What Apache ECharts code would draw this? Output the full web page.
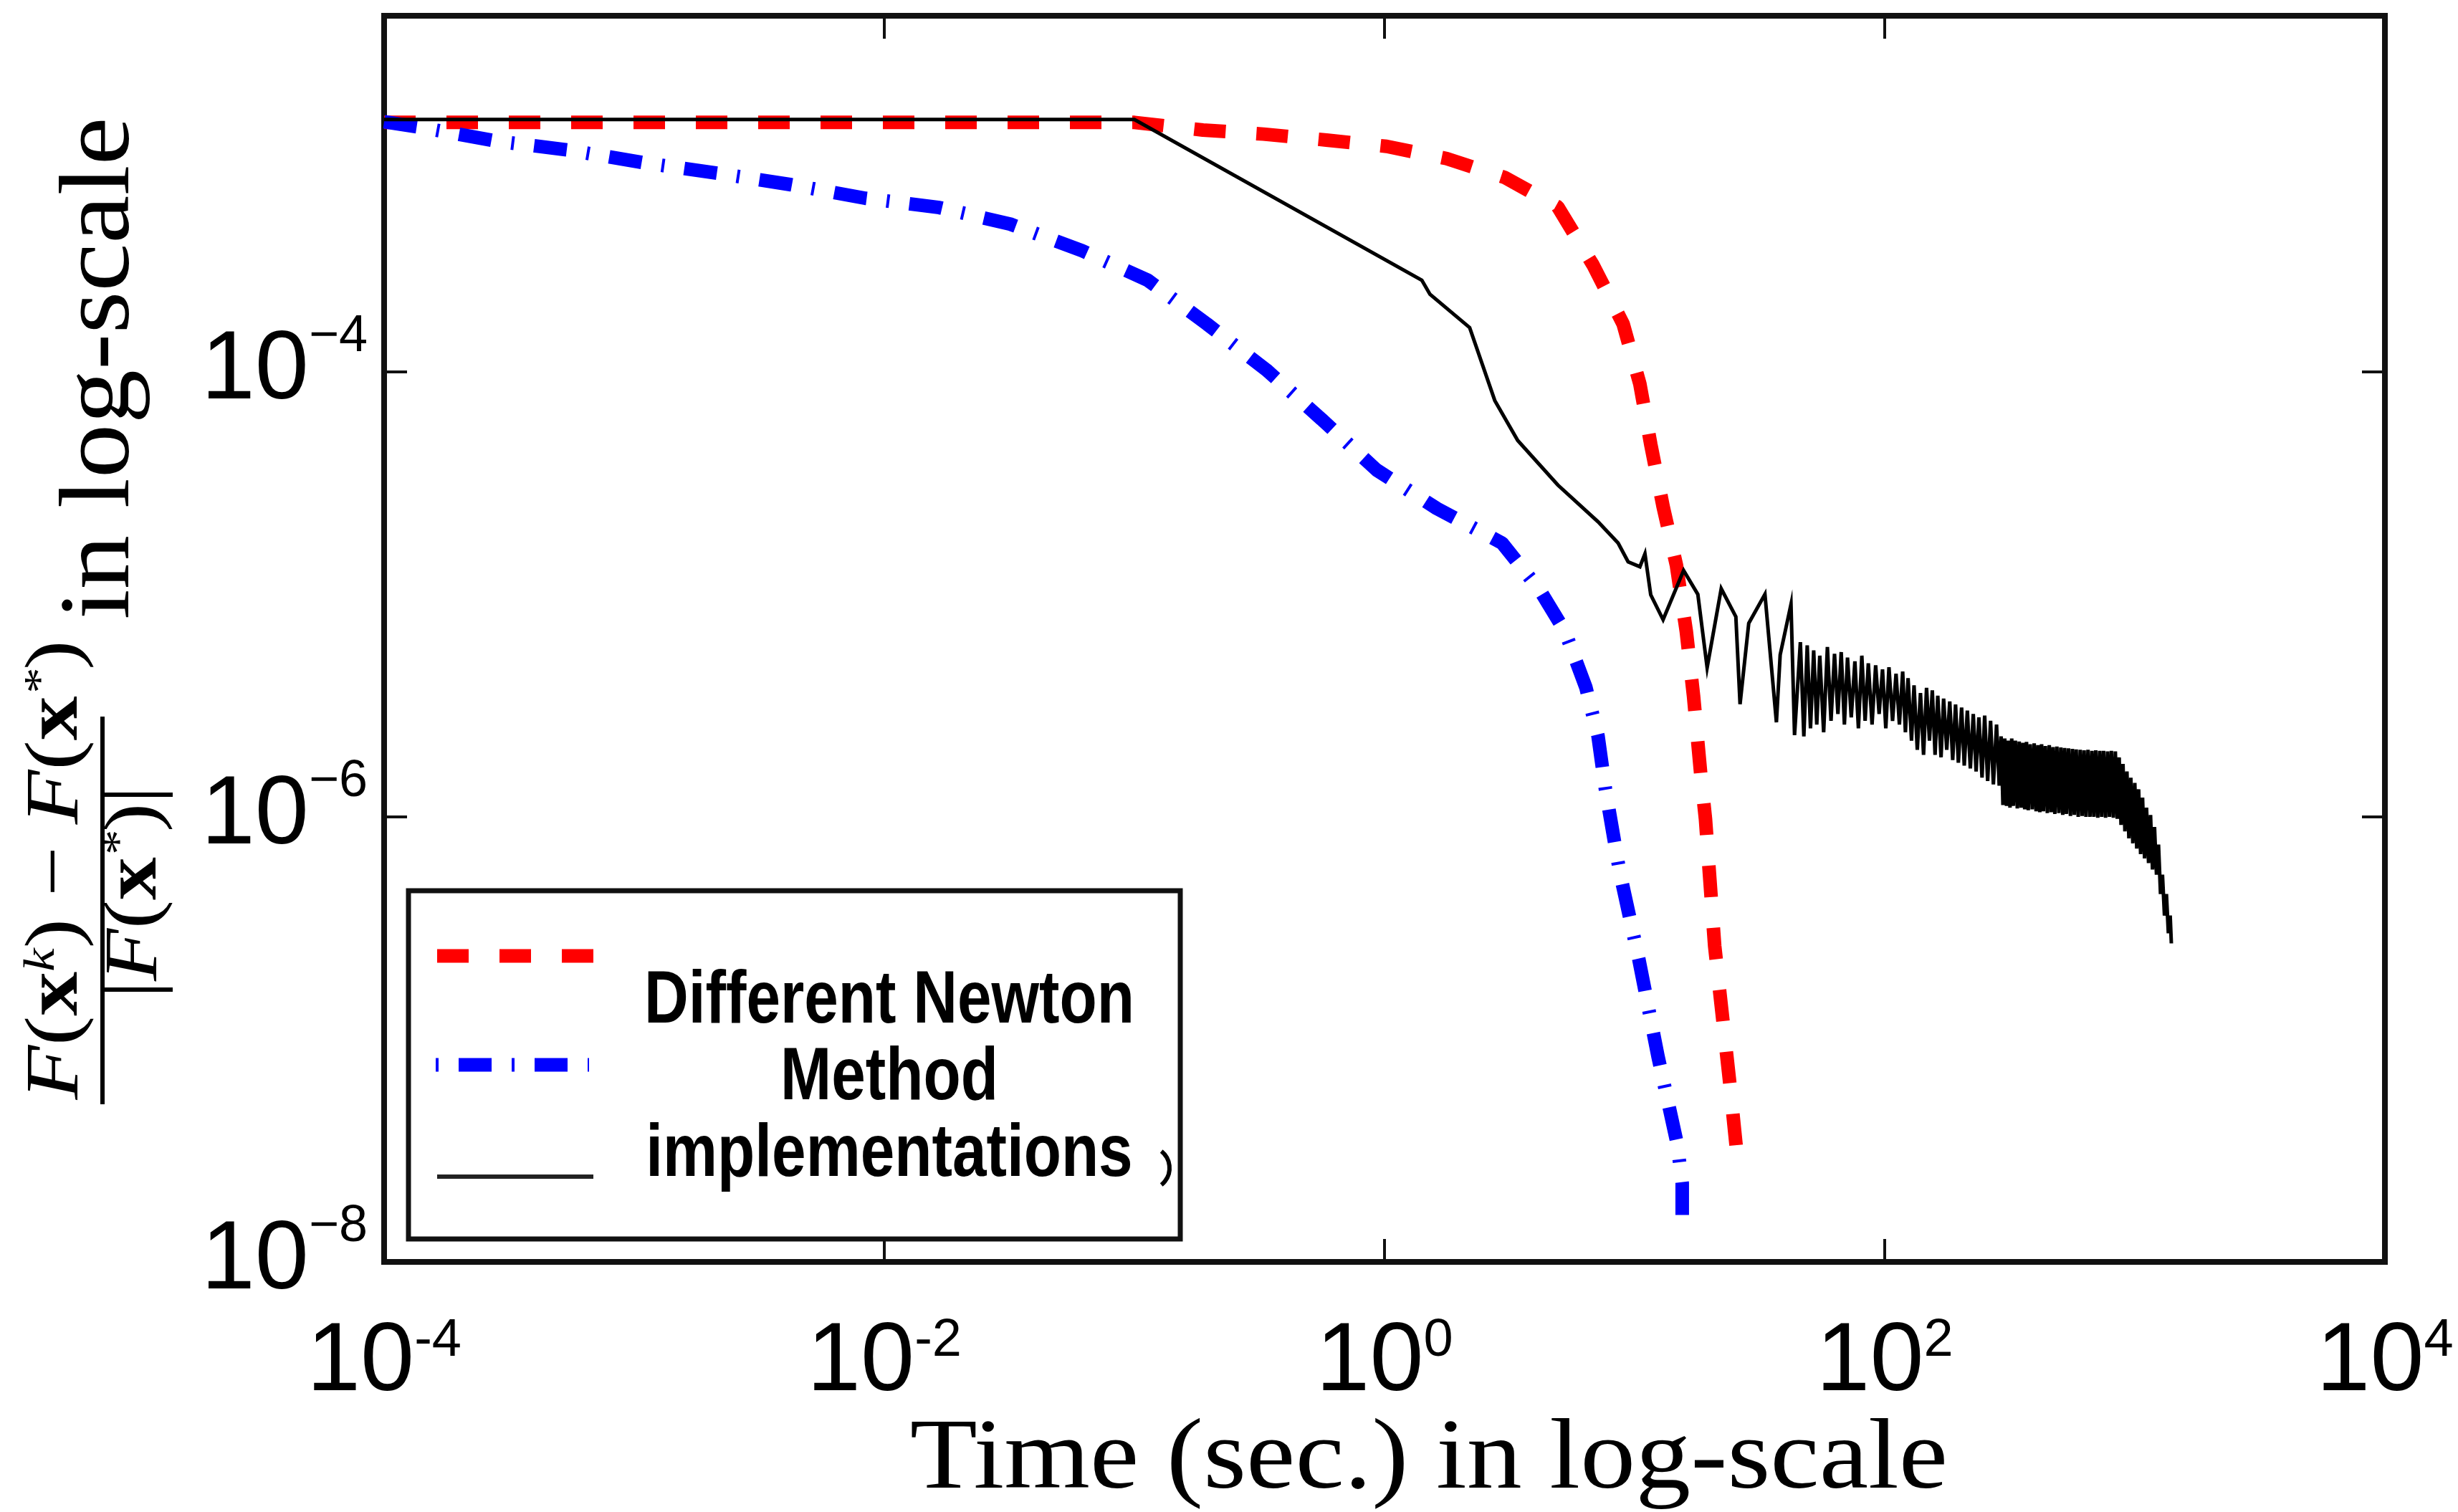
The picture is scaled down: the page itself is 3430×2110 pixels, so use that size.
<!DOCTYPE html>
<html>
<head>
<meta charset="utf-8">
<script src="https://cdn.jsdelivr.net/npm/echarts@6/dist/echarts.min.js"></script>
<style>
html,body{margin:0;padding:0;background:#fff;}
#chart{width:3430px;height:2110px;}
</style>
</head>
<body>
<div id="chart"></div>
<script>
// ---------- tick labels (exponents of 10) ----------
const xTickExponents = [-4, -2, 0, 2, 4];
const yTickExponents = [-8, -6, -4];

// ---------- texts ----------
const xAxisTitle = 'Time (sec.) in log-scale';
const yAxisTitleTail = 'in log-scale';
const legendLines = ['Different Newton', 'Method', 'implementations'];
const seriesNames = ['Newton (dashed)', 'Newton (dash-dot)', 'Newton (solid)'];

// ---------- series values: [time (s), relative error] ----------
const redPoints = [
  [1e-4, 1.32e-3], [0.1, 1.32e-3], [0.188, 1.22e-3], [0.328, 1.17e-3], [0.586, 1.10e-3],
  [1.02, 1.03e-3], [1.77, 9.08e-4], [3.03, 7.46e-4], [4.93, 5.51e-4], [6.82, 3.02e-4],
  [9.0, 1.64e-4], [10.5, 8.8e-5], [11.6, 4.73e-5], [13.0, 2.48e-5], [14.7, 1.35e-5],
  [16.1, 6.8e-6], [17.2, 3.5e-6], [18.4, 1.54e-6], [19.2, 9.8e-7], [20.9, 2.63e-7],
  [23.9, 6.7e-8], [25.9, 2.76e-8]
];

const bluePoints = [
  [1e-4, 1.33e-3], [1.37e-4, 1.26e-3], [2.78e-4, 1.09e-3], [5.52e-4, 9.9e-4], [1.09e-3, 8.7e-4],
  [2.15e-3, 7.8e-4], [4.24e-3, 6.93e-4], [8.42e-3, 6.02e-4], [0.0166, 5.47e-4], [0.0319, 4.61e-4],
  [0.0618, 3.50e-4], [0.113, 2.58e-4], [0.195, 1.64e-4], [0.337, 1.02e-4], [0.56, 6.12e-5],
  [0.93, 3.62e-5], [1.62, 2.43e-5], [2.95, 1.70e-5], [4.19, 1.04e-5], [5.27, 6.8e-6],
  [6.38, 3.83e-6], [7.14, 2.31e-6], [7.63, 1.35e-6], [8.71, 5.69e-7], [10.4, 2.29e-7],
  [12.4, 8.4e-8], [14.8, 3.40e-8], [15.5, 2.26e-8], [15.5, 1.34e-8]
];

const blackPoints = [
  [1e-4, 1.36e-3], [0.1, 1.36e-3], [1.41, 2.58e-4], [1.52, 2.23e-4], [2.19, 1.58e-4],
  [2.76, 7.43e-5], [3.41, 4.91e-5], [4.93, 3.10e-5], [7.14, 2.12e-5], [8.59, 1.70e-5],
  [9.42, 1.40e-5], [10.5, 1.33e-5], [11.0, 1.52e-5], [11.6, 9.95e-6], [13.0, 7.69e-6],
  [15.7, 1.28e-5], [17.9, 1.00e-5], [19.5, 4.68e-6], [22.2, 1.06e-5], [25.4, 7.93e-6],
  [26.4, 3.21e-6], [28.6, 7.41e-6], [33.2, 1.00e-5], [36.9, 2.66e-6], [38.2, 5.35e-6],
  [42.2, 9.03e-6], [43.6, 2.33e-6],
  [46, 6.1e-6], [47.5, 2.3e-6], [49, 5.9e-6], [50.5, 2.5e-6], [52, 5.6e-6], [53.5, 2.6e-6],
  [55, 5.3e-6], [57, 2.4e-6], [59, 5.8e-6], [61, 2.7e-6], [63, 5.4e-6], [65, 2.9e-6],
  [67, 5.5e-6], [69, 2.6e-6], [71, 5.2e-6], [73.5, 2.8e-6], [76, 5.0e-6], [78.5, 2.5e-6],
  [81, 5.3e-6], [83.5, 2.7e-6], [86, 4.9e-6], [89, 2.6e-6], [92, 4.8e-6], [95, 2.9e-6],
  [98, 4.6e-6], [101, 2.5e-6], [104, 4.7e-6], [107.5, 2.7e-6], [111, 4.4e-6], [114.5, 2.6e-6],
  [118, 4.5e-6], [121, 2.4e-6], [124, 4.2e-6], [128, 2.2e-6], [131, 3.9e-6], [135, 2.0e-6],
  [139, 3.6e-6], [143, 1.9e-6], [147, 3.8e-6], [151, 2.2e-6], [155, 3.7e-6], [159, 1.9e-6],
  [163, 3.5e-6], [168, 1.85e-6], [172, 3.4e-6], [177, 2.0e-6], [182, 3.3e-6], [187, 1.8e-6],
  [192, 3.2e-6], [197, 1.75e-6], [203, 3.1e-6], [208, 1.7e-6], [214, 3.0e-6], [220, 1.65e-6],
  [226, 2.9e-6], [232, 1.6e-6], [238, 2.8e-6], [245, 1.5e-6], [251, 2.85e-6], [258, 1.45e-6],
  [265, 2.7e-6], [272, 1.4e-6], [280, 2.6e-6], [287, 1.38e-6],
  [292, 2.3e-6], [297, 1.13e-6], [302, 2.25e-6], [307, 1.12e-6], [312, 2.2e-6], [317, 1.1e-6],
  [322, 2.25e-6], [327, 1.12e-6], [333, 2.2e-6], [339, 1.09e-6], [345, 2.18e-6], [351, 1.1e-6],
  [357, 2.15e-6], [363, 1.08e-6], [369, 2.17e-6], [375, 1.07e-6], [382, 2.12e-6], [389, 1.08e-6],
  [396, 2.14e-6], [403, 1.06e-6], [410, 2.1e-6], [417, 1.05e-6], [424, 2.12e-6], [431, 1.06e-6],
  [439, 2.08e-6], [447, 1.04e-6], [455, 2.1e-6], [463, 1.05e-6], [471, 2.06e-6], [479, 1.03e-6],
  [488, 2.07e-6], [497, 1.04e-6], [506, 2.05e-6], [515, 1.02e-6], [524, 2.04e-6], [533, 1.03e-6],
  [543, 2.03e-6], [553, 1.01e-6], [563, 2.02e-6], [573, 1.02e-6], [583, 2.01e-6], [594, 1.0e-6],
  [605, 2.0e-6], [616, 1.01e-6], [627, 1.99e-6], [638, 1.0e-6], [650, 2.0e-6], [662, 1.0e-6],
  [674, 1.98e-6], [686, 1.0e-6], [698, 1.99e-6], [711, 9.9e-7], [724, 1.98e-6], [737, 1.0e-6],
  [750, 1.98e-6], [764, 9.9e-7], [778, 1.97e-6], [792, 1.0e-6], [806, 1.98e-6], [821, 9.9e-7],
  [836, 1.97e-6], [851, 9.8e-7],
  [866, 1.85e-6], [881, 9.2e-7], [897, 1.73e-6], [913, 8.6e-7], [930, 1.6e-6], [947, 8.0e-7],
  [964, 1.5e-6], [982, 7.6e-7], [1000, 1.42e-6], [1018, 7.2e-7], [1036, 1.33e-6], [1055, 6.8e-7],
  [1074, 1.22e-6], [1094, 6.5e-7], [1114, 1.1e-6], [1135, 6.2e-7], [1156, 1.02e-6], [1177, 5.8e-7],
  [1199, 9.0e-7], [1221, 5.5e-7], [1244, 7.5e-7], [1267, 4.5e-7], [1290, 5.5e-7], [1314, 3.6e-7],
  [1338, 4.5e-7], [1362, 3.0e-7], [1385, 3.6e-7], [1400, 2.7e-7]
];

// ---------- helpers ----------
const SANS = '"Liberation Sans", Arial, Helvetica, sans-serif';
const SERIF = '"Liberation Serif", "Times New Roman", serif';
const AX = '#111';

function expOf(v, list) {
  const e = Math.log10(v);
  const r = Math.round(e);
  if (Math.abs(e - r) > 1e-6 || list.indexOf(r) < 0) return null;
  return r;
}
function xLabel(v) {
  const r = expOf(v, xTickExponents);
  if (r === null) return '';
  return '{b|10}{s|' + (r < 0 ? '-' + (-r) : String(r)) + '}';
}
function yLabel(v) {
  const r = expOf(v, yTickExponents);
  if (r === null) return '';
  return '{b|10}{m|\u2212}{s|' + (-r) + '}';
}

const axisLineStyle = { show: true, onZero: false, lineStyle: { color: AX, width: 8, cap: 'square' } };
const axisTickStyle = { show: true, inside: true, length: 32, lineStyle: { color: AX, width: 4 } };

const xBase = { type: 'log', logBase: 100, min: 1e-4, max: 1e4, gridIndex: 0,
  axisLine: axisLineStyle, axisTick: axisTickStyle, splitLine: { show: false },
  minorTick: { show: false }, minorSplitLine: { show: false } };
const yBase = { type: 'log', logBase: 100, min: 1e-8, max: 3.98e-3, gridIndex: 0,
  axisLine: axisLineStyle, axisTick: axisTickStyle, splitLine: { show: false },
  minorTick: { show: false }, minorSplitLine: { show: false } };

const fracRich = {
  i: { fontFamily: SERIF, fontStyle: 'italic', fontSize: 105, lineHeight: 105, fill: '#000' },
  p: { fontFamily: SERIF, fontSize: 105, lineHeight: 105, fill: '#000' },
  b: { fontFamily: SERIF, fontWeight: 'bold', fontSize: 105, lineHeight: 105, fill: '#000' },
  k: { fontFamily: SERIF, fontStyle: 'italic', fontSize: 62, lineHeight: 24, verticalAlign: 'top', fill: '#000' }
};

const chart = echarts.init(document.getElementById('chart'), null, { renderer: 'canvas' });

const option = {
  backgroundColor: '#ffffff',
  animation: false,
  grid: { left: 536, right: 102, top: 22, bottom: 349, containLabel: false, outerBoundsMode: 'none' },
  xAxis: [
    Object.assign({}, xBase, {
      position: 'bottom',
      axisLabel: {
        show: true, interval: 0, margin: 74, color: '#000', formatter: xLabel,
        showMinLabel: true, showMaxLabel: true,
        rich: {
          b: { fontFamily: SANS, fontSize: 135, lineHeight: 135, color: '#000' },
          s: { fontFamily: SANS, fontSize: 74, lineHeight: 19, verticalAlign: 'top', color: '#000' }
        }
      }
    }),
    Object.assign({}, xBase, { position: 'top', axisLabel: { show: false } })
  ],
  yAxis: [
    Object.assign({}, yBase, {
      position: 'left',
      axisLabel: {
        show: true, interval: 0, margin: 23, color: '#000', formatter: yLabel,
        rich: {
          b: { fontFamily: SANS, fontSize: 135, lineHeight: 170, color: '#000' },
          m: { fontFamily: SANS, fontSize: 72, lineHeight: 2, verticalAlign: 'top', color: '#000' },
          s: { fontFamily: SANS, fontSize: 72, lineHeight: 54, verticalAlign: 'top', color: '#000' }
        }
      }
    }),
    Object.assign({}, yBase, { position: 'right', axisLabel: { show: false } })
  ],
  series: [
    {
      name: seriesNames[0], type: 'line', xAxisIndex: 0, yAxisIndex: 0,
      data: redPoints, showSymbol: false, symbol: 'none', clip: true,
      lineStyle: { color: '#ff0000', width: 19, type: [44, 43], cap: 'butt' }
    },
    {
      name: seriesNames[1], type: 'line', xAxisIndex: 0, yAxisIndex: 0,
      data: bluePoints, showSymbol: false, symbol: 'none', clip: true,
      lineStyle: { color: '#0000ff', width: 19, type: [46, 28, 4, 28], cap: 'butt' }
    },
    {
      name: seriesNames[2], type: 'line', xAxisIndex: 0, yAxisIndex: 0,
      data: blackPoints, showSymbol: false, symbol: 'none', clip: true,
      lineStyle: { color: '#000000', width: 5, type: 'solid', join: 'miter' }
    }
  ],
  graphic: [
    // ----- legend box -----
    { type: 'rect', z: 100, shape: { x: 570, y: 1243, width: 1077, height: 486 },
      style: { fill: '#ffffff', stroke: AX, lineWidth: 7 } },
    { type: 'line', z: 101, shape: { x1: 610, y1: 1334, x2: 828, y2: 1334 },
      style: { stroke: '#ff0000', lineWidth: 19, lineDash: [44, 43] } },
    { type: 'line', z: 101, shape: { x1: 608, y1: 1486, x2: 822, y2: 1486 },
      style: { stroke: '#0000ff', lineWidth: 19, lineDash: [46, 28, 4, 28], lineDashOffset: 74 } },
    { type: 'line', z: 101, shape: { x1: 610, y1: 1642, x2: 828, y2: 1642 },
      style: { stroke: '#222', lineWidth: 6 } },
    { type: 'arc', z: 101, shape: { cx: 1602, cy: 1630, r: 30, startAngle: -0.9, endAngle: 0.9 },
      style: { stroke: '#000', lineWidth: 6, fill: null } },
    { type: 'text', z: 102, x: 1241, y: 1506, scaleX: 0.83, scaleY: 1,
      style: { text: legendLines.join('\n'), fontFamily: SANS, fontWeight: 'bold', fontSize: 103,
        lineHeight: 107, fill: '#000', align: 'center', verticalAlign: 'middle',
        textAlign: 'center', textVerticalAlign: 'middle' } },
    // ----- x axis title -----
    { type: 'text', z: 50, x: 1994, y: 2039, scaleX: 1.10, scaleY: 1,
      style: { text: xAxisTitle, fontFamily: SERIF, fontSize: 140, fill: '#000',
        align: 'center', verticalAlign: 'middle', textAlign: 'center', textVerticalAlign: 'middle' } },
    // ----- y axis title (rotated) -----
    { type: 'text', z: 50, x: 142, y: 514, rotation: Math.PI / 2, scaleX: 1.08, scaleY: 1,
      style: { text: yAxisTitleTail, fontFamily: SERIF, fontSize: 140, fill: '#000',
        align: 'center', verticalAlign: 'middle', textAlign: 'center', textVerticalAlign: 'middle' } },
    { type: 'text', z: 50, x: 80, y: 1214, rotation: Math.PI / 2, scaleX: 1.18, scaleY: 1,
      style: {
        text: '{i|F}{p|(}{b|x}{k|k}{p|)}{p| \u2212 }{i|F}{p|(}{b|x}{k|*}{p|)}',
        align: 'center', verticalAlign: 'middle', textAlign: 'center', textVerticalAlign: 'middle',
        rich: fracRich
      } },
    { type: 'line', z: 50, shape: { x1: 143, y1: 1000, x2: 143, y2: 1541 },
      style: { stroke: '#000', lineWidth: 6 } },
    { type: 'text', z: 50, x: 190, y: 1245, rotation: Math.PI / 2, scaleX: 1.14, scaleY: 1,
      style: {
        text: '{p||}{i|F}{p|(}{b|x}{k|*}{p|)}{p||}',
        align: 'center', verticalAlign: 'middle', textAlign: 'center', textVerticalAlign: 'middle',
        rich: fracRich
      } }
  ]
};

chart.setOption(option);
</script>
</body>
</html>
